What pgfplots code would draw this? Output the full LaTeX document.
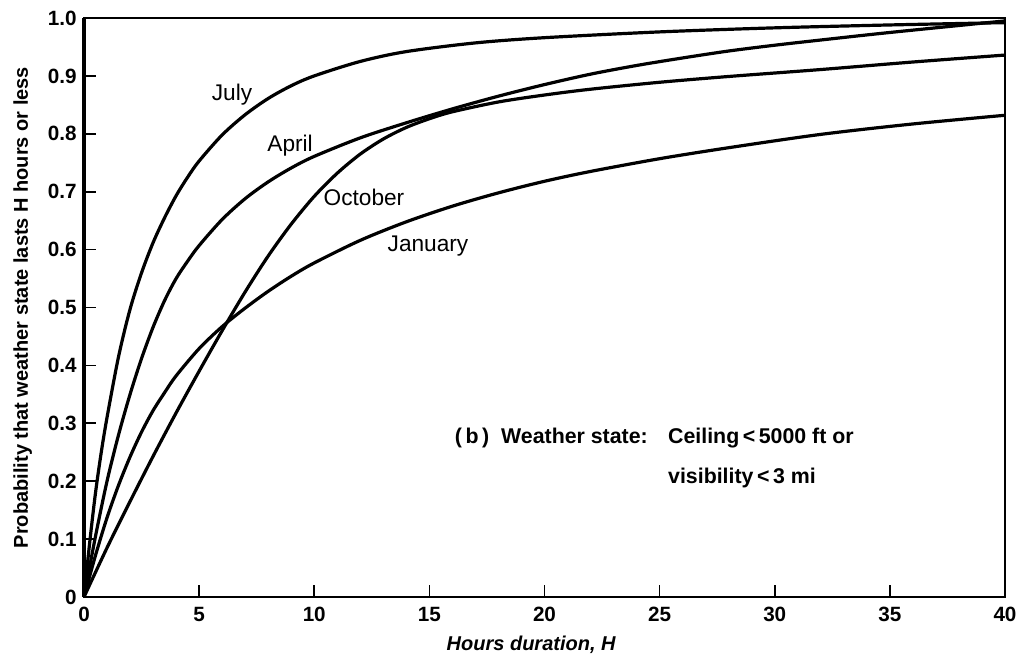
\documentclass[border=0pt]{standalone}
\usepackage{fontspec}
\setmainfont{Liberation Sans}
\usepackage{pgfplots}
\pgfplotsset{compat=1.18}
\pgfplotsset{curve/.style={black, line width=2.4pt, smooth, no marks}}
\begin{document}
\begin{tikzpicture}
\path[use as bounding box] (-63pt,-48.75pt) rectangle (703.5pt,447.75pt);
\begin{axis}[
  scale only axis,
  width=690.75pt, height=434.25pt,
  at={(0pt,0pt)}, anchor=origin,
  xmin=0, xmax=40, ymin=0, ymax=1,
  xtick={0,5,...,40},
  ytick={0,0.1,...,1.0},
  yticklabels={0,0.1,0.2,0.3,0.4,0.5,0.6,0.7,0.8,0.9,1.0},
  xtick pos=bottom, ytick pos=left,
  tick align=inside,
  major tick length=9pt,
  tick style={line width=1.3pt, black},
  axis line style={line width=1.3pt},
  /pgf/number format/assume math mode=true,
  ticklabel style={font=\fontsize{15.5}{15.5}\selectfont\bfseries},
  xticklabel style={yshift=-4pt},
  yticklabel style={xshift=-2pt},
  xlabel={\itshape Hours duration, H},
  ylabel={Probability that weather state lasts H hours or less},
  label style={font=\fontsize{15}{15}\selectfont\bfseries},
  xlabel style={yshift=-4pt, xshift=-10pt},
  ylabel style={yshift=5pt},
  clip=false,
]
% July
\addplot[curve] coordinates {(0,0) (0.25,0.095) (0.5,0.18) (0.75,0.25) (1,0.31) (1.5,0.415) (2,0.497) (2.5,0.56) (3,0.612) (3.5,0.655) (4,0.693) (4.5,0.725) (5,0.753) (6,0.798) (7,0.833) (8,0.861) (9,0.883) (10,0.900) (12,0.925) (14,0.942) (17,0.957) (20,0.966) (25,0.976) (30,0.983) (35,0.988) (40,0.992)};
% April
\addplot[curve] coordinates {(0,0) (0.5,0.105) (1,0.20) (1.5,0.28) (2,0.35) (2.5,0.412) (3,0.466) (3.5,0.512) (4,0.55) (4.5,0.58) (5,0.607) (6,0.652) (7,0.688) (8,0.717) (9,0.741) (10,0.761) (12,0.793) (14,0.819) (16,0.843) (18,0.865) (20,0.885) (22,0.903) (24,0.918) (26,0.931) (28,0.943) (30,0.953) (32,0.962) (35,0.975) (40,0.995)};
% October
\addplot[curve] coordinates {(0,0) (1,0.085) (2,0.165) (3,0.243) (4,0.318) (5,0.39) (6,0.46) (7,0.527) (8,0.589) (9,0.644) (10,0.692) (11,0.732) (12,0.765) (13,0.791) (14,0.811) (15,0.826) (16,0.838) (18,0.855) (20,0.867) (22,0.877) (25,0.889) (28,0.899) (32,0.911) (36,0.924) (40,0.936)};
% January
\addplot[curve] coordinates {(0,0) (0.5,0.072) (1,0.137) (1.5,0.193) (2,0.242) (2.5,0.285) (3,0.322) (3.5,0.353) (4,0.382) (5,0.429) (6,0.467) (7,0.499) (8,0.528) (9,0.554) (10,0.577) (12,0.616) (14,0.648) (16,0.675) (18,0.698) (20,0.718) (22,0.735) (25,0.757) (28,0.776) (32,0.799) (36,0.817) (40,0.832)};
\draw[line width=2.8pt] (rel axis cs:0,0) -- (rel axis cs:0,1);
\draw[line width=2.2pt] (rel axis cs:0,0) -- (rel axis cs:1,0);
\begin{scope}[every node/.style={font=\fontsize{17}{17}\selectfont}]
\node at (axis cs:6.43,0.867) {July};
\node at (axis cs:8.95,0.779) {April};
\node at (axis cs:12.16,0.691) {October};
\node at (axis cs:14.94,0.606) {January};
\end{scope}
\begin{scope}[every node/.style={font=\fontsize{16}{16}\selectfont\bfseries, anchor=west, inner sep=0pt}]
\node at (axis cs:16.1,0.275) {(\,b\,)\ \ Weather state:};
\node at (axis cs:25.36,0.275) {Ceiling\,<\,5000 ft or};
\node at (axis cs:25.36,0.2055) {visibility\,<\,3 mi};
\end{scope}
\end{axis}
\end{tikzpicture}
\end{document}
